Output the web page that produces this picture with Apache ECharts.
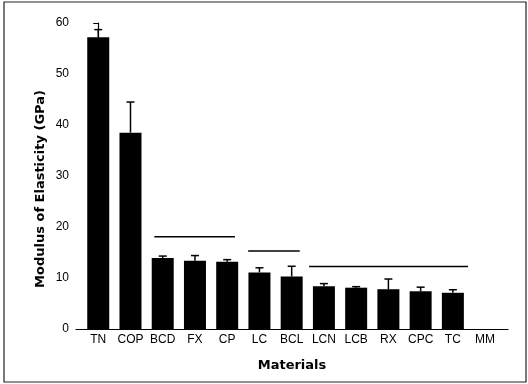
<!DOCTYPE html>
<html>
<head>
<meta charset="utf-8">
<script src="https://cdn.jsdelivr.net/npm/echarts@6/dist/echarts.min.js"></script>
<style>
html,body{margin:0;padding:0;background:#fff;}
#chart{width:528px;height:384px;}
</style>
</head>
<body>
<div id="chart"></div>
<script>
var categories = ['TN','COP','BCD','FX','CP','LC','BCL','LCN','LCB','RX','CPC','TC','MM'];
var meanValues = [57.2, 38.5, 13.9, 13.4, 13.2, 11.1, 10.3, 8.4, 8.1, 7.8, 7.4, 7.1, null];
var errorValues = [1.5, 6.0, 0.4, 1.0, 0.4, 0.9, 2.0, 0.5, 0.2, 2.0, 0.8, 0.6, null];
var groupStart = [1.74, 4.65, 6.54];
var groupEnd = [4.24, 6.25, 11.47];
var groupLevel = [18.1, 15.3, 12.25];
var yTicks = [0, 10, 20, 30, 40, 50, 60];
var xTitle = 'Materials';
var yTitle = 'Modulus of Elasticity (GPa)';

var barData = [];
var errData = [];
for (var i = 0; i < categories.length; i++) {
  if (meanValues[i] !== null) {
    barData.push([i, meanValues[i]]);
    errData.push([i, meanValues[i], meanValues[i] + errorValues[i]]);
  }
}
var groupData = [];
for (var j = 0; j < groupStart.length; j++) {
  groupData.push([groupStart[j], groupEnd[j], groupLevel[j]]);
}

var font = 'Liberation Sans, Arial, sans-serif';
var titleFont = 'DejaVu Sans, sans-serif';
var chart = echarts.init(document.getElementById('chart'), null, {renderer: 'canvas'});
chart.setOption({
  animation: false,
  backgroundColor: '#fff',
  graphic: [{
    type: 'rect',
    shape: {x: 4, y: 2, width: 522, height: 380},
    style: {fill: 'none', stroke: '#222', lineWidth: 1.2},
    silent: true
  }, {
    type: 'text',
    x: 41,
    y: 189,
    rotation: Math.PI / 2,
    style: {
      text: yTitle,
      fontFamily: titleFont,
      fontWeight: 'bold',
      fontSize: 13,
      fill: '#000',
      align: 'center',
      verticalAlign: 'middle'
    },
    silent: true
  }],
  grid: {left: 76, right: 20, top: 23, bottom: 55},
  xAxis: {
    type: 'value',
    min: -0.69,
    max: 12.71,
    name: xTitle,
    nameLocation: 'middle',
    nameGap: 30,
    nameTextStyle: {fontFamily: titleFont, fontWeight: 'bold', fontSize: 13, color: '#000'},
    axisLine: {show: true, lineStyle: {color: '#000', width: 1.2}},
    axisTick: {show: false},
    splitLine: {show: false},
    axisLabel: {
      customValues: categories.map(function (c, k) { return k; }),
      formatter: function (v) { return categories[Math.round(v)]; },
      fontFamily: font, fontSize: 12, color: '#000', margin: 5
    }
  },
  yAxis: {
    type: 'value',
    min: 0,
    max: 60,
    interval: 10,
    axisLine: {show: true, lineStyle: {color: '#000', width: 1.2}},
    axisTick: {show: true, length: 5, lineStyle: {color: '#000'}},
    splitLine: {show: false},
    axisLabel: {
      fontFamily: font, fontSize: 12, color: '#000', margin: 7,
      formatter: function (v) { return yTicks.indexOf(v) >= 0 ? String(v) : ''; }
    }
  },
  series: [
    {
      type: 'bar',
      data: barData,
      barWidth: 22,
      itemStyle: {color: '#000'},
      z: 2
    },
    {
      type: 'custom',
      data: errData,
      z: 3,
      renderItem: function (params, api) {
        var x = api.value(0);
        var top = api.coord([x, api.value(1)]);
        var hi = api.coord([x, api.value(2)]);
        var cap = 4;
        return {
          type: 'group',
          children: [
            {type: 'line', shape: {x1: top[0], y1: top[1], x2: hi[0], y2: hi[1]}, style: {stroke: '#000', lineWidth: 1.5}},
            {type: 'line', shape: {x1: hi[0] - cap, y1: hi[1], x2: hi[0] + cap, y2: hi[1]}, style: {stroke: '#000', lineWidth: 1.5}}
          ]
        };
      }
    },
    {
      type: 'custom',
      data: groupData,
      z: 3,
      renderItem: function (params, api) {
        var a = api.coord([api.value(0), api.value(2)]);
        var b = api.coord([api.value(1), api.value(2)]);
        return {type: 'line', shape: {x1: a[0], y1: a[1], x2: b[0], y2: b[1]}, style: {stroke: '#000', lineWidth: 1.6}};
      }
    }
  ]
});
</script>
</body>
</html>
